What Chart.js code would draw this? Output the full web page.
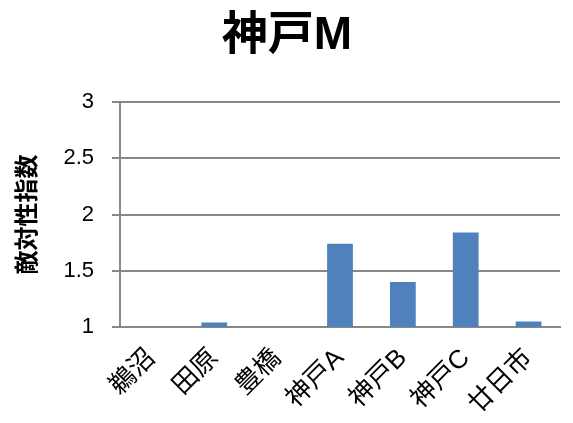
<!DOCTYPE html>
<html>
<head>
<meta charset="utf-8">
<script src="https://cdn.jsdelivr.net/npm/chart.js@4/dist/chart.umd.min.js"></script>
<style>
  html, body { margin: 0; padding: 0; background: #fff; }
  #wrap { width: 573px; height: 423px; }
</style>
</head>
<body>
<div id="wrap"><canvas id="myChart"></canvas></div>
<script>
// data
const categories = ['鵜沼', '田原', '豊橋', '神戸A', '神戸B', '神戸C', '廿日市'];
const values = [1.0, 1.04, 1.0, 1.74, 1.40, 1.84, 1.05];
const yTicks = [1, 1.5, 2, 2.5, 3];

const fontFamily = "'Liberation Sans', 'Noto Sans CJK JP', sans-serif";

const myChart = document.getElementById('myChart');

let barChart = new Chart(myChart, {
  type: 'bar',
  data: {
    labels: categories,
    datasets: [{
      label: '敵対性指数',
      data: values,
      backgroundColor: '#4f81bd',
      borderWidth: 0,
      categoryPercentage: 1,
      barPercentage: 0.41
    }]
  },
  options: {
    responsive: true,
    maintainAspectRatio: false,
    animation: false,
    layout: { padding: { left: 14, right: 13, top: 0, bottom: 0 } },
    plugins: {
      legend: { display: false },
      tooltip: { enabled: false },
      title: {
        display: true,
        text: '神戸M',
        color: '#000',
        font: { family: fontFamily, size: 46, weight: 'bold' },
        padding: { top: 9, bottom: 38 }
      }
    },
    scales: {
      x: {
        afterFit: axis => { axis.height = 96; },
        grid: { display: false },
        border: { display: true, color: '#888', width: 2 },
        ticks: {
          color: '#000',
          font: { family: fontFamily, size: 26 },
          maxRotation: 45,
          minRotation: 45,
          autoSkip: false,
          padding: 8
        }
      },
      y: {
        min: 1,
        max: 3,
        afterFit: axis => { axis.width = 106; },
        afterBuildTicks: axis => {
          axis.ticks = yTicks.map(v => ({ value: v }));
        },
        grid: {
          color: '#888',
          lineWidth: 2,
          tickLength: 8,
          drawTicks: true
        },
        border: { display: true, color: '#888', width: 2 },
        title: {
          display: true,
          text: '敵対性指数',
          color: '#000',
          font: { family: fontFamily, size: 24, weight: 'bold' },
          padding: { top: 0, bottom: 12 }
        },
        ticks: {
          color: '#000',
          font: { family: fontFamily, size: 22 },
          padding: 18,
          callback: v => String(v)
        }
      }
    }
  }
});
</script>
</body>
</html>
